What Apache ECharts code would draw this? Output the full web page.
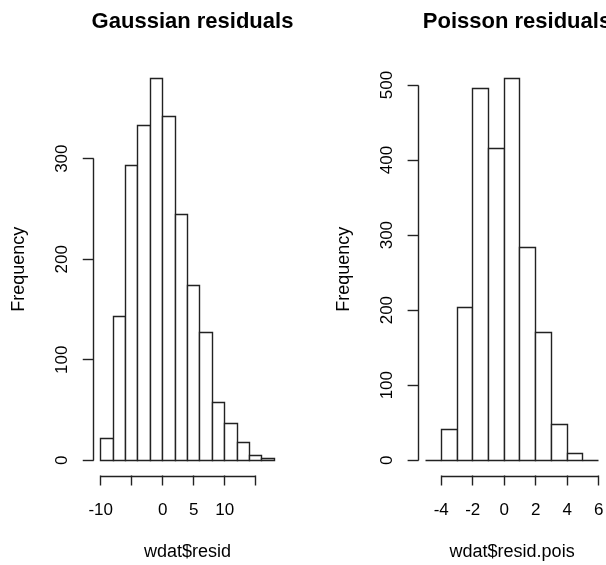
<!DOCTYPE html>
<html>
<head>
<meta charset="utf-8">
<script src="https://cdn.jsdelivr.net/npm/echarts@6/dist/echarts.min.js"></script>
<style>
  html, body { margin: 0; padding: 0; background: #fff; }
  #chart { width: 606px; height: 565px; }
</style>
</head>
<body>
<div id="chart"></div>
<script>
// ---- Data ----
const gaussTitle = 'Gaussian residuals';
const gaussXName = 'wdat$resid';
const gaussBreaks = [-10, -8, -6, -4, -2, 0, 2, 4, 6, 8, 10, 12, 14, 16, 18];
const gaussCounts = [22, 143, 293, 333, 380, 342, 244, 174, 127, 57, 37, 18, 5, 2];
const gaussXTicks = [-10, -5, 0, 5, 10, 15];
const gaussXLabels = [-10, 0, 5, 10];
const gaussYTicks = [0, 100, 200, 300];

const poisTitle = 'Poisson residuals';
const poisXName = 'wdat$resid.pois';
const poisBreaks = [-5, -4, -3, -2, -1, 0, 1, 2, 3, 4, 5, 6];
const poisCounts = [0, 41, 203, 495, 415, 509, 284, 170, 48, 9, 0];
const poisXTicks = [-4, -2, 0, 2, 4, 6];
const poisXLabels = [-4, -2, 0, 2, 4, 6];
const poisYTicks = [0, 100, 200, 300, 400, 500];

const yName = 'Frequency';

// ---- Helpers ----
const FONT = '"Liberation Sans", Arial, sans-serif';
const LINE = '#222';
const LW = 1.4;

function usr(lo, hi) { const d = (hi - lo) * 0.04; return [lo - d, hi + d]; }

function binData(breaks, counts) {
  return counts.map((c, i) => [breaks[i], breaks[i + 1], c]);
}

function crisp(v) { return Math.round(v - 0.5) + 0.5; }

function barItem(params, api) {
  const p0 = api.coord([api.value(0), 0]);
  const p1 = api.coord([api.value(1), api.value(2)]);
  const x0 = crisp(p0[0]), x1 = crisp(p1[0]);
  const yb = crisp(p0[1]), yt = crisp(p1[1]);
  return {
    type: 'rect',
    shape: { x: x0, y: yt, width: x1 - x0, height: yb - yt },
    style: { fill: '#fff', stroke: LINE, lineWidth: LW }
  };
}

function makeAxisItem(xMin, yMin) {
  return function (params, api) {
    const a = api.coord([api.value(0), yMin]);
    const b = api.coord([api.value(1), yMin]);
    const c = api.coord([xMin, api.value(2)]);
    const d = api.coord([xMin, api.value(3)]);
    const ya = crisp(a[1]) + 1, xc = crisp(c[0]);
    return {
      type: 'group',
      children: [
        { type: 'line', shape: { x1: crisp(a[0]), y1: ya, x2: crisp(b[0]), y2: ya }, style: { stroke: LINE, lineWidth: LW } },
        { type: 'line', shape: { x1: xc, y1: crisp(c[1]), x2: xc, y2: crisp(d[1]) }, style: { stroke: LINE, lineWidth: LW } }
      ]
    };
  };
}

const gx = usr(gaussBreaks[0], gaussBreaks[gaussBreaks.length - 1]);
const gy = usr(0, Math.max(...gaussCounts));
const px = usr(poisBreaks[0], poisBreaks[poisBreaks.length - 1]);
const py = usr(0, Math.max(...poisCounts));

const grids = [
  { left: 93.75, top: 63, width: 187.5, height: 412.5 },
  { left: 418.6, top: 63, width: 187, height: 412.5 }
];

function xAxisCfg(gi, range, ticks, labels, name) {
  return {
    type: 'value', gridIndex: gi, min: range[0], max: range[1], position: 'bottom',
    axisLine: { show: false, onZero: false },
    splitLine: { show: false },
    axisTick: { show: true, length: 10, customValues: ticks, lineStyle: { color: LINE, width: LW } },
    axisLabel: { show: true, customValues: labels, margin: 26, fontSize: 17, color: '#000', fontFamily: FONT },
    name: name, nameLocation: 'middle', nameGap: 68,
    nameTextStyle: { fontSize: 18, color: '#000', fontFamily: FONT }
  };
}
function yAxisCfg(gi, range, ticks) {
  return {
    type: 'value', gridIndex: gi, min: range[0], max: range[1], position: 'left',
    axisLine: { show: false, onZero: false },
    splitLine: { show: false },
    axisTick: { show: true, length: 11, customValues: ticks, lineStyle: { color: LINE, width: LW } },
    axisLabel: { show: true, customValues: ticks, rotate: 90, margin: 23, fontSize: 17, color: '#000', fontFamily: FONT },
    name: yName, nameLocation: 'middle', nameGap: 66,
    nameTextStyle: { fontSize: 18, color: '#000', fontFamily: FONT }
  };
}

const chart = echarts.init(document.getElementById('chart'), null, { renderer: 'canvas' });
chart.setOption({
  animation: false,
  backgroundColor: '#fff',
  title: [
    { text: gaussTitle, left: 187.5, top: 6, textAlign: 'center',
      textStyle: { fontSize: 22, fontWeight: 'bold', color: '#000', fontFamily: FONT } },
    { text: poisTitle, left: 512, top: 6, textAlign: 'center',
      textStyle: { fontSize: 22, fontWeight: 'bold', color: '#000', fontFamily: FONT } }
  ],
  grid: grids.map(g => Object.assign({ containLabel: false, outerBoundsMode: 'none' }, g)),
  xAxis: [
    xAxisCfg(0, gx, gaussXTicks, gaussXLabels, gaussXName),
    xAxisCfg(1, px, poisXTicks, poisXLabels, poisXName)
  ],
  yAxis: [
    yAxisCfg(0, gy, gaussYTicks),
    yAxisCfg(1, py, poisYTicks)
  ],
  series: [
    { type: 'custom', xAxisIndex: 0, yAxisIndex: 0, clip: false, renderItem: barItem,
      encode: { x: [0, 1], y: 2 }, data: binData(gaussBreaks, gaussCounts) },
    { type: 'custom', xAxisIndex: 1, yAxisIndex: 1, clip: false, renderItem: barItem,
      encode: { x: [0, 1], y: 2 }, data: binData(poisBreaks, poisCounts) },
    { type: 'custom', xAxisIndex: 0, yAxisIndex: 0, clip: false, renderItem: makeAxisItem(gx[0], gy[0]),
      encode: { x: [0, 1], y: [2, 3] },
      data: [[gaussXTicks[0], gaussXTicks[gaussXTicks.length - 1], gaussYTicks[0], gaussYTicks[gaussYTicks.length - 1]]] },
    { type: 'custom', xAxisIndex: 1, yAxisIndex: 1, clip: false, renderItem: makeAxisItem(px[0], py[0]),
      encode: { x: [0, 1], y: [2, 3] },
      data: [[poisXTicks[0], poisXTicks[poisXTicks.length - 1], poisYTicks[0], poisYTicks[poisYTicks.length - 1]]] }
  ]
});
</script>
</body>
</html>
